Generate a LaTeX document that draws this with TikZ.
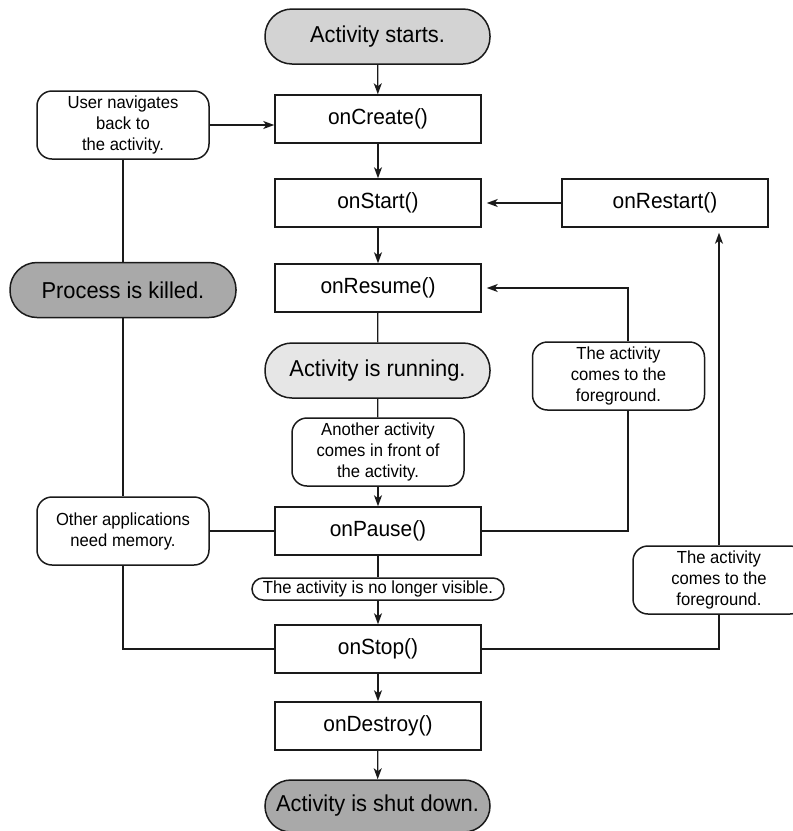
\documentclass[tikz,border=0pt]{standalone}
\usepackage{fontspec}
\setmainfont{Liberation Sans}[FakeStretch=0.95]
\usetikzlibrary{arrows.meta}
\definecolor{gA}{HTML}{D3D3D3}
\definecolor{gB}{HTML}{E6E6E6}
\definecolor{gC}{HTML}{A9A9A9}
\definecolor{ink}{HTML}{1A1A1A}
\begin{document}
\begin{tikzpicture}[x=1pt,y=-1pt,
 every node/.style={inner sep=0pt, align=center, text=black},
 base/.style={draw=ink, line width=1.5pt, fill=white},
 capsule/.style={base, rounded corners=27pt, minimum width=225pt, minimum height=55pt, font=\fontsize{23}{27}\selectfont},
 fn/.style={base, minimum width=206pt, minimum height=48pt, font=\fontsize{22}{26}\selectfont},
 lbl/.style={base, rounded corners=15pt, minimum width=172pt, minimum height=68pt, font=\fontsize{17.5}{21}\selectfont},
 ln/.style={draw=ink, line width=1.3pt},
 ar/.style={ln, -{Stealth[length=11pt,width=8pt,inset=3pt]}},
]
\clip (0,0) rectangle (793,831);
\fill[white] (0,0) rectangle (793,831);
% main column
\node[capsule, fill=gA] (start) at (377.5,36.5) {Activity starts.};
\node[fn] (create) at (378,119) {onCreate()};
\node[fn] (startN) at (378,203) {onStart()};
\node[fn] (resume) at (378,288) {onResume()};
\node[capsule, fill=gB] (running) at (377.5,370.5) {Activity is running.};
\node[lbl] (another) at (378,452) {Another activity\\comes in front of\\the activity.};
\node[fn] (pause) at (378,531) {onPause()};
\node[base, rounded corners=11pt, minimum width=252pt, minimum height=22pt, font=\fontsize{17.5}{21}\selectfont] (novis) at (378,589) {The activity is no longer visible.};
\node[fn] (stop) at (378,649) {onStop()};
\node[fn] (destroy) at (378,726) {onDestroy()};
\node[capsule, fill=gC, minimum height=52pt, rounded corners=26pt] (shut) at (377.5,806) {Activity is shut down.};
% left column
\node[lbl] (user) at (123,125) {User navigates\\back to\\the activity.};
\node[capsule, fill=gC, minimum width=226pt] (killed) at (123,290) {Process is killed.};
\node[lbl] (other) at (123,531) {Other applications\\need memory.};
% right column
\node[fn] (restart) at (665,203) {onRestart()};
\node[lbl] (fg1) at (618.5,376) {The activity\\comes to the\\foreground.};
\node[lbl] (fg2) at (719,580) {The activity\\comes to the\\foreground.};
\coordinate (fx) at (628,0);
% connectors
\draw[ar] (start) -- (create);
\draw[ar] (create) -- (startN);
\draw[ar] (startN) -- (resume);
\draw[ln] (resume) -- (running);
\draw[ln] (running) -- (another);
\draw[ar] (another) -- (pause);
\draw[ln] (pause) -- (novis);
\draw[ar] (novis) -- (stop);
\draw[ar] (stop) -- (destroy);
\draw[ar] (destroy) -- (shut);
\draw[ar] (user.east) -- (user.east -| create.west);
\draw[ln] (user) -- (killed);
\draw[ln] (killed) -- (other);
\draw[ln] (other.east) -- (other.east -| pause.west);
\draw[ln] (other.south) |- (stop.west);
\draw[ar, shorten >=5pt] (restart.west) -- (restart.west -| startN.east);
\draw[ln] (pause.east) -| (fx |- fg1.south);
\draw[ar, shorten >=5pt] (fx |- fg1.north) |- (resume.east);
\draw[ln] (stop.east) -| (fg2.south);
\draw[ar, shorten >=5pt] (fg2.north) -- (fg2.north |- restart.south);
\end{tikzpicture}
\end{document}
